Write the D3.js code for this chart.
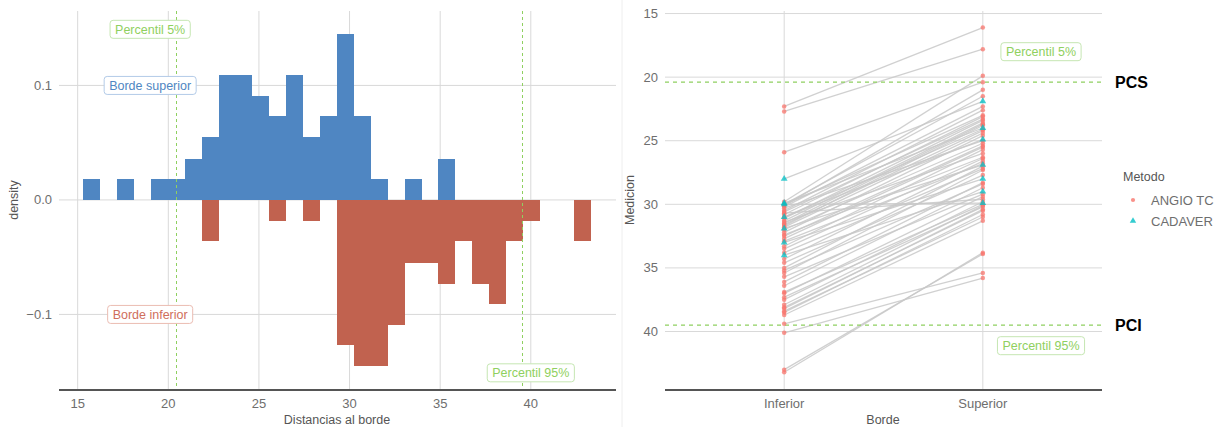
<!DOCTYPE html>
<html>
<head>
<meta charset="utf-8">
<script src="https://cdn.jsdelivr.net/npm/d3@7"></script>
<style>
  body { margin: 0; background: #fff; }
  svg { font-family: "Liberation Sans", Arial, sans-serif; }
</style>
</head>
<body>
<svg id="chart" width="1225" height="427"></svg>
<script>

// histogram bins (30 bins)
const binStart = 15.31;
const binWidth = 0.933;
const densSuperior = [0.018, 0, 0.018, 0, 0.018, 0.018, 0.036, 0.055, 0.109, 0.109,
  0.091, 0.073, 0.109, 0.055, 0.073, 0.145, 0.073, 0.018, 0, 0.018,
  0, 0.036, 0, 0, 0, 0, 0, 0, 0, 0];
const densInferior = [0, 0, 0, 0, 0, 0, 0, 0.036, 0, 0,
  0, 0.018, 0, 0.018, 0, 0.127, 0.145, 0.145, 0.109, 0.055,
  0.055, 0.073, 0.036, 0.073, 0.091, 0.036, 0.018, 0, 0, 0.036];
const p5 = 20.4;
const p95 = 39.5;
const xTicks = [15, 20, 25, 30, 35, 40];
const yTicks = [-0.1, 0.0, 0.1];

// paired measurements
const bordes = ["Inferior", "Superior"];
const metodos = ["ANGIO TC", "CADAVER"];
const inferiorAngio = [22.3, 22.7, 25.9, 29.8, 30.0, 30.05, 30.1, 30.2, 30.3, 30.5,
  30.6, 30.7, 30.8, 31.0, 31.1, 31.3, 31.4, 31.5, 31.6, 31.7,
  31.8, 32.0, 32.2, 32.4, 32.5, 32.7, 32.9, 33.3, 33.5, 33.8,
  34.3, 34.6, 35.0, 35.2, 35.4, 35.7, 36.1, 36.4, 36.9, 37.0,
  37.3, 37.5, 37.9, 38.1, 38.2, 38.4, 38.5, 38.7, 39.4, 40.1, 43.0, 43.2];
const superiorAngio = [16.1, 17.8, 20.4, 19.9, 21.5, 23.0, 21.0, 22.3, 25.0, 22.6,
  23.3, 29.6, 23.1, 24.1, 23.4, 23.6, 26.0, 23.7, 24.2, 23.8,
  24.4, 25.2, 24.6, 26.3, 25.4, 25.5, 26.8, 25.7, 26.4, 27.2,
  26.6, 27.7, 27.0, 28.4, 27.3, 29.2, 28.3, 28.7, 30.0, 29.4,
  30.2, 29.8, 30.1, 30.5, 30.4, 31.0, 30.8, 31.3, 35.4, 35.8, 33.9, 33.8];
const inferiorCadaver = [28.0, 29.9, 30.0, 31.0, 31.9, 33.0, 34.0];
const superiorCadaver = [21.9, 24.0, 29.9, 24.9, 26.9, 28.0, 29.0];
const yTicksR = [15, 20, 25, 30, 35, 40];

const colSup = "#4f86c2";
const colInf = "#c1624f";
const green = "#8fd060";
const txt = "#6e6e6e";

const svg = d3.select("#chart");

// ---------- left panel: mirrored histogram ----------
const x = d3.scaleLinear().domain([13.97, 44.7]).range([59, 616]);
const y = d3.scaleLinear().domain([-0.166, 0.165]).range([390, 11]);

const left = svg.append("g");

left.selectAll(".vgrid").data(xTicks).enter().append("line")
  .attr("x1", d => x(d)).attr("x2", d => x(d))
  .attr("y1", 11).attr("y2", 390)
  .attr("stroke", "#d9d9d9").attr("stroke-width", 1);

left.selectAll(".hgrid").data(yTicks).enter().append("line")
  .attr("x1", 59).attr("x2", 616)
  .attr("y1", d => y(d)).attr("y2", d => y(d))
  .attr("stroke", "#d9d9d9").attr("stroke-width", 1);

// bins with their left edge, empty ones dropped
const binsSup = densSuperior.map((d, i) => ({ x0: binStart + i * binWidth, d: d })).filter(b => b.d > 0);
const binsInf = densInferior.map((d, i) => ({ x0: binStart + i * binWidth, d: d })).filter(b => b.d > 0);

left.selectAll(".barSup").data(binsSup).enter().append("rect")
  .attr("x", b => x(b.x0))
  .attr("width", b => x(b.x0 + binWidth) - x(b.x0))
  .attr("y", b => y(b.d))
  .attr("height", b => y(0) - y(b.d))
  .attr("fill", colSup)
  .attr("shape-rendering", "crispEdges");

left.selectAll(".barInf").data(binsInf).enter().append("rect")
  .attr("x", b => x(b.x0))
  .attr("width", b => x(b.x0 + binWidth) - x(b.x0))
  .attr("y", y(0))
  .attr("height", b => y(-b.d) - y(0))
  .attr("fill", colInf)
  .attr("shape-rendering", "crispEdges");

[p5, p95].forEach(p => {
  const px = Math.round(x(p)) + 0.5;
  left.append("line")
    .attr("x1", px).attr("x2", px)
    .attr("y1", 11).attr("y2", 390)
    .attr("stroke", green).attr("stroke-width", 1)
    .attr("stroke-dasharray", "3,3");
});

left.append("line")
  .attr("x1", 59).attr("x2", 616).attr("y1", 390).attr("y2", 390)
  .attr("stroke", "#555").attr("stroke-width", 2);

left.selectAll(".xtick").data(xTicks).enter().append("text")
  .attr("x", d => x(d)).attr("y", 408)
  .attr("text-anchor", "middle").attr("font-size", 13).attr("fill", txt)
  .text(d => d);

left.selectAll(".ytick").data(yTicks).enter().append("text")
  .attr("x", 52).attr("y", d => y(d) + 4.5)
  .attr("text-anchor", "end").attr("font-size", 13).attr("fill", txt)
  .text(d => d3.format(".1f")(d));

left.append("text")
  .attr("x", 337).attr("y", 424)
  .attr("text-anchor", "middle").attr("font-size", 12.5).attr("fill", "#555")
  .text("Distancias al borde");

left.append("text")
  .attr("transform", "translate(18,200) rotate(-90)")
  .attr("text-anchor", "middle").attr("font-size", 12.5).attr("fill", "#555")
  .text("density");

// boxed labels
function boxLabel(g, cx, cy, label, color, border) {
  const t = g.append("text")
    .attr("x", cx).attr("y", cy + 4.3)
    .attr("text-anchor", "middle").attr("font-size", 12.5).attr("fill", color)
    .text(label);
  const bb = t.node().getBBox();
  g.insert("rect", () => t.node())
    .attr("x", bb.x - 5).attr("y", cy - 9)
    .attr("width", bb.width + 10).attr("height", 18)
    .attr("rx", 3)
    .attr("fill", "#fff").attr("stroke", border).attr("stroke-width", 1);
}

boxLabel(left, x(19.0), y(0.149), "Percentil 5%", green, "#c5e6b2");
boxLabel(left, x(19.0), y(0.1), "Borde superior", colSup, "#b3cbe8");
boxLabel(left, x(19.0), y(-0.1), "Borde inferior", "#cf6e5c", "#ebbcb2");
boxLabel(left, x(40.0), y(-0.151), "Percentil 95%", green, "#c5e6b2");

// faint frame of the right picture
svg.append("line")
  .attr("x1", 622).attr("x2", 622).attr("y1", 0).attr("y2", 427)
  .attr("stroke", "#eeeeee").attr("stroke-width", 1);

// ---------- right panel: paired measurements ----------
const xr = d3.scalePoint().domain(bordes).range([665, 1102]).padding(0.6);
const yr = d3.scaleLinear().domain([14.8, 44.6]).range([11, 390]);

const right = svg.append("g");

right.selectAll(".hgrid").data(yTicksR).enter().append("line")
  .attr("x1", 665).attr("x2", 1102)
  .attr("y1", d => yr(d)).attr("y2", d => yr(d))
  .attr("stroke", "#d9d9d9").attr("stroke-width", 1);

right.selectAll(".vgrid").data(bordes).enter().append("line")
  .attr("x1", d => xr(d)).attr("x2", d => xr(d))
  .attr("y1", 11).attr("y2", 390)
  .attr("stroke", "#d9d9d9").attr("stroke-width", 1);

const pairs = [];
inferiorAngio.forEach((v, i) => pairs.push({ inf: v, sup: superiorAngio[i], metodo: metodos[0] }));
inferiorCadaver.forEach((v, i) => pairs.push({ inf: v, sup: superiorCadaver[i], metodo: metodos[1] }));

right.selectAll(".pair").data(pairs).enter().append("line")
  .attr("x1", xr("Inferior")).attr("x2", xr("Superior"))
  .attr("y1", d => yr(d.inf)).attr("y2", d => yr(d.sup))
  .attr("stroke", "#c8c8c8").attr("stroke-width", 1.3).attr("stroke-opacity", 0.85);

[p5, p95].forEach(p => {
  right.append("line")
    .attr("x1", 665).attr("x2", 1102)
    .attr("y1", yr(p)).attr("y2", yr(p))
    .attr("stroke", green).attr("stroke-width", 1.2)
    .attr("stroke-dasharray", "4,4");
});

const pts = [];
pairs.forEach(d => {
  pts.push({ borde: "Inferior", v: d.inf, metodo: d.metodo });
  pts.push({ borde: "Superior", v: d.sup, metodo: d.metodo });
});

const colMet = d3.scaleOrdinal().domain(metodos).range(["#f8766d", "#00bfc4"]);
const symMet = d3.scaleOrdinal().domain(metodos).range([d3.symbolCircle, d3.symbolTriangle]);

right.selectAll(".pt").data(pts).enter().append("path")
  .attr("transform", d => `translate(${xr(d.borde)},${yr(d.v)})`)
  .attr("d", d => d3.symbol().type(symMet(d.metodo)).size(d.metodo === metodos[0] ? 16 : 20)())
  .attr("fill", d => colMet(d.metodo))
  .attr("fill-opacity", 0.75);

right.append("line")
  .attr("x1", 665).attr("x2", 1102).attr("y1", 390).attr("y2", 390)
  .attr("stroke", "#555").attr("stroke-width", 2);

right.selectAll(".ytick").data(yTicksR).enter().append("text")
  .attr("x", 658).attr("y", d => yr(d) + 4.5)
  .attr("text-anchor", "end").attr("font-size", 13).attr("fill", txt)
  .text(d => d);

right.selectAll(".xtick").data(bordes).enter().append("text")
  .attr("x", d => xr(d)).attr("y", 408)
  .attr("text-anchor", "middle").attr("font-size", 13).attr("fill", txt)
  .text(d => d);

right.append("text")
  .attr("x", 883).attr("y", 424)
  .attr("text-anchor", "middle").attr("font-size", 12.5).attr("fill", "#555")
  .text("Borde");

right.append("text")
  .attr("transform", "translate(634,200) rotate(-90)")
  .attr("text-anchor", "middle").attr("font-size", 12.5).attr("fill", "#555")
  .text("Medicion");

boxLabel(right, 1041, 51.7, "Percentil 5%", green, "#c5e6b2");
boxLabel(right, 1041, 345.7, "Percentil 95%", green, "#c5e6b2");

right.append("text")
  .attr("x", 1115).attr("y", yr(p5) + 6)
  .attr("font-size", 16).attr("font-weight", "bold").attr("fill", "#000")
  .text("PCS");
right.append("text")
  .attr("x", 1115).attr("y", yr(p95) + 6)
  .attr("font-size", 16).attr("font-weight", "bold").attr("fill", "#000")
  .text("PCI");

// legend
const legend = right.append("g");
legend.append("text")
  .attr("x", 1123).attr("y", 181)
  .attr("font-size", 12.5).attr("fill", "#555")
  .text("Metodo");
metodos.forEach((m, i) => {
  legend.append("path")
    .attr("transform", `translate(1133,${200 + i * 21})`)
    .attr("d", d3.symbol().type(symMet(m)).size(i === 0 ? 14 : 18)())
    .attr("fill", colMet(m)).attr("fill-opacity", 0.8);
  legend.append("text")
    .attr("x", 1151).attr("y", 204.5 + i * 21)
    .attr("font-size", 13).attr("fill", txt)
    .text(m);
});

</script>
</body>
</html>
